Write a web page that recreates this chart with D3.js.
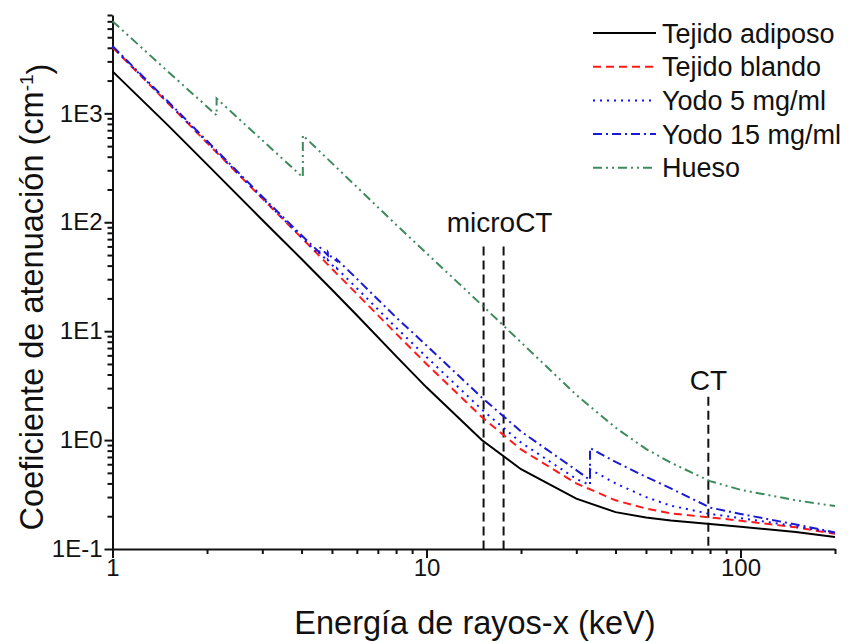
<!DOCTYPE html>
<html>
<head>
<meta charset="utf-8">
<script src="https://cdn.jsdelivr.net/npm/d3@7"></script>
<style>
  body { margin: 0; background: #fff; }
  text { font-family: "Liberation Sans", Arial, sans-serif; fill: #111; }
</style>
</head>
<body>
<div id="chart"></div>
<script>
// energies in keV, attenuation in cm^-1
const gridE = [1, 1.5, 2, 3, 4, 5, 6, 8, 10, 15, 20, 30, 40, 50, 60, 80, 100, 150, 200];
const adiposoV = [2430, 780, 340, 105, 46, 24, 14, 5.9, 3.05, 1.0, 0.54, 0.29, 0.218, 0.195, 0.183, 0.170, 0.160, 0.143, 0.129];
const blandoV = [4040, 1245, 537, 165, 72, 37.4, 22, 9.5, 5.0, 1.63, 0.82, 0.40, 0.28, 0.235, 0.212, 0.195, 0.182, 0.158, 0.138];

// iodine curves carry the L and K edges twice (below / above)
const yodoE = [1, 1.5, 2, 3, 4, 4.557, 4.557, 4.852, 4.852, 5, 5.188, 5.188, 6, 8, 10, 15, 20, 30, 33.17, 33.17, 40, 50, 60, 80, 100, 150, 200];
const yodo5V = [4080, 1260, 545, 167, 73, 50.3, 52.5, 43.8, 45, 40.6, 37, 37.5, 24.8, 10.8, 5.8, 1.91, 0.95, 0.44, 0.386, 0.54, 0.40, 0.30, 0.25, 0.21, 0.192, 0.162, 0.140];
const yodo15V = [4150, 1290, 560, 172, 76, 53, 59.5, 49.8, 53.3, 47.2, 44, 45.5, 30.3, 13.4, 7.4, 2.46, 1.2, 0.53, 0.43, 0.845, 0.63, 0.46, 0.36, 0.24, 0.21, 0.168, 0.142];

// bone: P and Ca K edges
const huesoE = [1, 1.5, 2, 2.1455, 2.1455, 3, 4, 4.038, 4.038, 5, 6, 8, 10, 15, 20, 30, 40, 50, 60, 80, 100, 150, 200];
const huesoV = [7000, 2430, 1150, 960, 1370, 566, 265, 259, 629, 349, 211, 95, 52, 17.4, 7.9, 2.6, 1.3, 0.83, 0.62, 0.42, 0.35, 0.28, 0.248];

const legendNames = ["Tejido adiposo", "Tejido blando", "Yodo 5 mg/ml", "Yodo 15 mg/ml", "Hueso"];

// reference lines: energy, top value
const markE = [15.2, 17.6, 79];
const markTop = [60, 60, 2.5];
const markLabels = ["microCT", "CT"];

const W = 853, H = 642;
const margin = {left: 112.5, right: 18, top: 15, bottom: 93};

const svg = d3.select("#chart").append("svg")
  .attr("width", W).attr("height", H);

const x = d3.scaleLog().domain([1, 200]).range([margin.left, W - margin.right]);
const y = d3.scaleLog().domain([0.1, 8000]).range([H - margin.bottom, margin.top]);

const series = [
  {name: legendNames[0], E: gridE, V: adiposoV, color: "#000", dash: null},
  {name: legendNames[1], E: gridE, V: blandoV, color: "#ff1a1a", dash: "8,5"},
  {name: legendNames[2], E: yodoE, V: yodo5V, color: "#1010ff", dash: "2,5"},
  {name: legendNames[3], E: yodoE, V: yodo15V, color: "#1a1ad6", dash: "9,4,2,4"},
  {name: legendNames[4], E: huesoE, V: huesoV, color: "#3d8a5c", dash: "9,4,2,4,2,4"}
];

// axes
const xMajor = [1, 10, 100];
const xMinor = [];
[1, 10, 100].forEach(d => { for (let m = 2; m <= 9; m++) if (m * d <= 200) xMinor.push(m * d); });
const yMajor = [0.1, 1, 10, 100, 1000];
const yMinor = [];
yMajor.forEach(d => { for (let m = 2; m <= 9; m++) if (m * d <= 8000) yMinor.push(m * d); });

const y0 = H - margin.bottom;

svg.append("g")
  .attr("transform", "translate(0," + y0 + ")")
  .call(d3.axisBottom(x).tickValues(xMinor).tickSize(5).tickSizeOuter(0).tickFormat(""))
  .call(g => g.select(".domain").remove());
const xa = svg.append("g")
  .attr("transform", "translate(0," + y0 + ")")
  .call(d3.axisBottom(x).tickValues(xMajor).tickSize(9).tickSizeOuter(0).tickPadding(1).tickFormat(d3.format("d")));
xa.selectAll("text").style("font-size", "24px");

svg.append("g")
  .attr("transform", "translate(" + margin.left + ",0)")
  .call(d3.axisLeft(y).tickValues(yMinor).tickSize(5).tickSizeOuter(0).tickFormat(""))
  .call(g => g.select(".domain").remove());
const ya = svg.append("g")
  .attr("transform", "translate(" + margin.left + ",0)")
  .call(d3.axisLeft(y).tickValues(yMajor).tickSize(8).tickSizeOuter(0).tickPadding(2)
    .tickFormat(d => "1E" + Math.round(Math.log10(d))));
ya.selectAll("text").style("font-size", "24px");

svg.selectAll(".domain, .tick line").attr("stroke", "#111").attr("stroke-width", 2);

// reference dashed lines
markE.forEach((e, i) => {
  svg.append("line")
    .attr("x1", x(e)).attr("x2", x(e))
    .attr("y1", y(markTop[i])).attr("y2", y0)
    .attr("stroke", "#111").attr("stroke-width", 2)
    .attr("stroke-dasharray", "9,5");
});
svg.append("text")
  .attr("x", (x(markE[0]) + x(markE[1])) / 2 + 6).attr("y", y(markTop[0]) - 14)
  .attr("text-anchor", "middle").style("font-size", "28px")
  .text(markLabels[0]);
svg.append("text")
  .attr("x", x(markE[2])).attr("y", y(markTop[2]) - 7)
  .attr("text-anchor", "middle").style("font-size", "28px")
  .text(markLabels[1]);

// curves
const line = d3.line()
  .x(d => x(d[0]))
  .y(d => y(d[1]));

const drawOrder = [4, 0, 1, 2, 3];
drawOrder.forEach(i => {
  const s = series[i];
  svg.append("path")
    .datum(s.E.map((e, j) => [e, s.V[j]]))
    .attr("fill", "none")
    .attr("stroke", s.color)
    .attr("stroke-width", 2)
    .attr("stroke-dasharray", s.dash)
    .attr("d", line);
});

// legend
const leg = svg.append("g").attr("transform", "translate(593,33)");
series.forEach((s, i) => {
  const g = leg.append("g").attr("transform", "translate(0," + (i * 33.7) + ")");
  g.append("line")
    .attr("x1", 0).attr("x2", 63)
    .attr("stroke", s.color).attr("stroke-width", 2)
    .attr("stroke-dasharray", s.dash);
  g.append("text")
    .attr("x", 69).attr("y", 9.5)
    .style("font-size", "27px")
    .text(s.name);
});

// axis titles
svg.append("text")
  .attr("x", 475).attr("y", 634)
  .attr("text-anchor", "middle").style("font-size", "32.5px")
  .text("Energía de rayos-x (keV)");

const yt = svg.append("text")
  .attr("transform", "translate(43,297) rotate(-90)")
  .attr("text-anchor", "middle").style("font-size", "32.5px");
yt.append("tspan").text("Coeficiente de atenuación (cm");
yt.append("tspan").attr("dy", "-0.55em").style("font-size", "19px").text("-1");
yt.append("tspan").attr("dy", "0.55em").text(")");
</script>
</body>
</html>
